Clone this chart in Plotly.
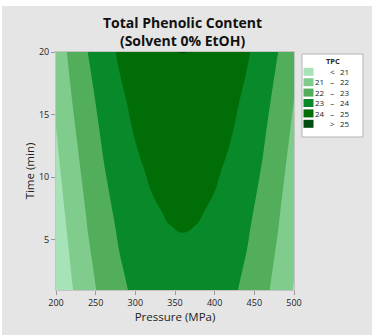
import plotly.graph_objects as go

# Response surface of total phenolic content (TPC) over pressure and time
pressure = [200, 220, 240, 260, 280, 300, 320, 340, 350, 360, 370, 380, 400, 420, 440, 460, 480, 500]
time_min = [1, 3, 5, 6, 7, 10, 13, 16, 20]
tpc = [
    [20.11, 20.94, 21.67, 22.29, 22.79, 23.18, 23.46, 23.63, 23.67, 23.69, 23.67, 23.63, 23.46, 23.18, 22.79, 22.29, 21.67, 20.94],
    [20.24, 21.08, 21.81, 22.42, 22.93, 23.32, 23.60, 23.77, 23.81, 23.82, 23.81, 23.77, 23.60, 23.32, 22.93, 22.42, 21.81, 21.08],
    [20.38, 21.22, 21.95, 22.56, 23.07, 23.46, 23.74, 23.91, 23.95, 23.96, 23.95, 23.91, 23.74, 23.46, 23.07, 22.56, 21.95, 21.22],
    [20.45, 21.29, 22.02, 22.63, 23.13, 23.53, 23.81, 23.97, 24.01, 24.03, 24.01, 23.97, 23.81, 23.53, 23.13, 22.63, 22.02, 21.29],
    [20.52, 21.36, 22.08, 22.70, 23.20, 23.60, 23.87, 24.04, 24.08, 24.10, 24.08, 24.04, 23.87, 23.60, 23.20, 22.70, 22.08, 21.36],
    [20.73, 21.56, 22.29, 22.91, 23.41, 23.80, 24.08, 24.25, 24.29, 24.31, 24.29, 24.25, 24.08, 23.80, 23.41, 22.91, 22.29, 21.56],
    [20.93, 21.77, 22.50, 23.11, 23.62, 24.01, 24.29, 24.46, 24.50, 24.51, 24.50, 24.46, 24.29, 24.01, 23.62, 23.11, 22.50, 21.77],
    [21.14, 21.98, 22.70, 23.32, 23.82, 24.22, 24.49, 24.66, 24.70, 24.72, 24.70, 24.66, 24.49, 24.22, 23.82, 23.32, 22.70, 21.98],
    [21.43, 22.27, 23.00, 23.61, 24.12, 24.51, 24.79, 24.95, 24.99, 25.01, 24.99, 24.95, 24.79, 24.51, 24.12, 23.61, 23.00, 22.27],
]
levels = [21, 22, 23, 24, 25]
x_ticks = [200, 250, 300, 350, 400, 450, 500]
y_ticks = [5, 10, 15, 20]

band_colors = ["#a6e3b7", "#7fcc8c", "#52ae5a", "#088a2b", "#006d06", "#004c10"]

FONT = "Open Sans"
TEXT = "#222222"

# plot area in pixels
W, H = 377, 336
L, T, R, B = 56, 52, 294, 290


def px(x):
    return (x - L) / (R - L)


def py(y):
    return (B - y) / (B - T)


fig = go.Figure()
fig.add_trace(go.Contour(
    x=pressure, y=time_min, z=tpc,
    autocontour=False,
    contours=dict(start=levels[0], end=levels[-1], size=1, coloring="fill", showlines=False),
    colorscale=[[i / (len(band_colors) - 1), c] for i, c in enumerate(band_colors)],
    line=dict(width=0, smoothing=1.3),
    showscale=False,
    hoverinfo="skip",
))

shapes = [
    # grey panel behind everything
    dict(type="rect", xref="paper", yref="paper", layer="below",
         x0=px(2), x1=px(372), y0=py(335), y1=py(6),
         fillcolor="#e5e5e5", line=dict(width=0)),
    # legend box
    dict(type="rect", xref="paper", yref="paper",
         x0=px(302), x1=px(363), y0=py(137), y1=py(54),
         fillcolor="white", line=dict(color="#b4b4b4", width=1)),
]

annotations = [
    dict(text="<b>Total Phenolic Content<br>(Solvent 0% EtOH)</b>",
         x=px(182), y=py(31), xref="paper", yref="paper", showarrow=False,
         xanchor="center", yanchor="middle",
         font=dict(family=FONT, size=14, color="#111")),
    dict(text="<b>TPC</b>", x=px(333), y=py(60.5), xref="paper", yref="paper", showarrow=False,
         xanchor="center", yanchor="middle", font=dict(family=FONT, size=7.5, color=TEXT)),
]

# legend: one swatch per fill band, text set in three aligned columns
ROW0, STEP = 71.8, 10.4
lows = [None] + levels
highs = levels + [None]
left_col, sym_col, right_col = [], [], []
for i, color in enumerate(band_colors):
    yc = ROW0 + i * STEP
    shapes.append(dict(type="rect", xref="paper", yref="paper",
                       x0=px(303.5), x1=px(313.5), y0=py(yc + 4), y1=py(yc - 4),
                       fillcolor=color, line=dict(width=0)))
    lo, hi = lows[i], highs[i]
    if lo is None:
        left_col.append("\u00a0"); sym_col.append("<"); right_col.append(str(hi))
    elif hi is None:
        left_col.append("\u00a0"); sym_col.append(">"); right_col.append(str(lo))
    else:
        left_col.append(str(lo)); sym_col.append("–"); right_col.append(str(hi))

mid_y = ROW0 + STEP * (len(band_colors) - 1) / 2
for lines, xx, anchor in [(left_col, 326.5, "right"), (sym_col, 332.5, "center"), (right_col, 338, "left")]:
    annotations.append(dict(text="<br>".join(lines), x=px(xx), y=py(mid_y),
                            xref="paper", yref="paper", showarrow=False,
                            xanchor=anchor, yanchor="middle", align=anchor,
                            font=dict(family=FONT, size=8, color=TEXT)))

axis_common = dict(
    showgrid=False, zeroline=False,
    showline=True, linecolor="#c4c4c4", linewidth=1, mirror=True,
    ticks="outside", ticklen=4, tickcolor="#9a9a9a",
    tickfont=dict(family=FONT, size=9, color=TEXT),
)

fig.update_layout(
    width=W, height=H,
    margin=dict(l=L, r=W - R, t=T, b=H - B, pad=0),
    paper_bgcolor="white", plot_bgcolor="#e5e5e5",
    showlegend=False,
    xaxis=dict(range=[200, 500], tickvals=x_ticks,
               title=dict(text="Pressure (MPa)", standoff=4,
                          font=dict(family=FONT, size=11.5, color=TEXT)),
               **axis_common),
    yaxis=dict(range=[1, 20], tickvals=y_ticks,
               title=dict(text="Time (min)", standoff=1,
                          font=dict(family=FONT, size=11.5, color=TEXT)),
               **axis_common),
    shapes=shapes,
    annotations=annotations,
)

fig.write_html("out.html")
